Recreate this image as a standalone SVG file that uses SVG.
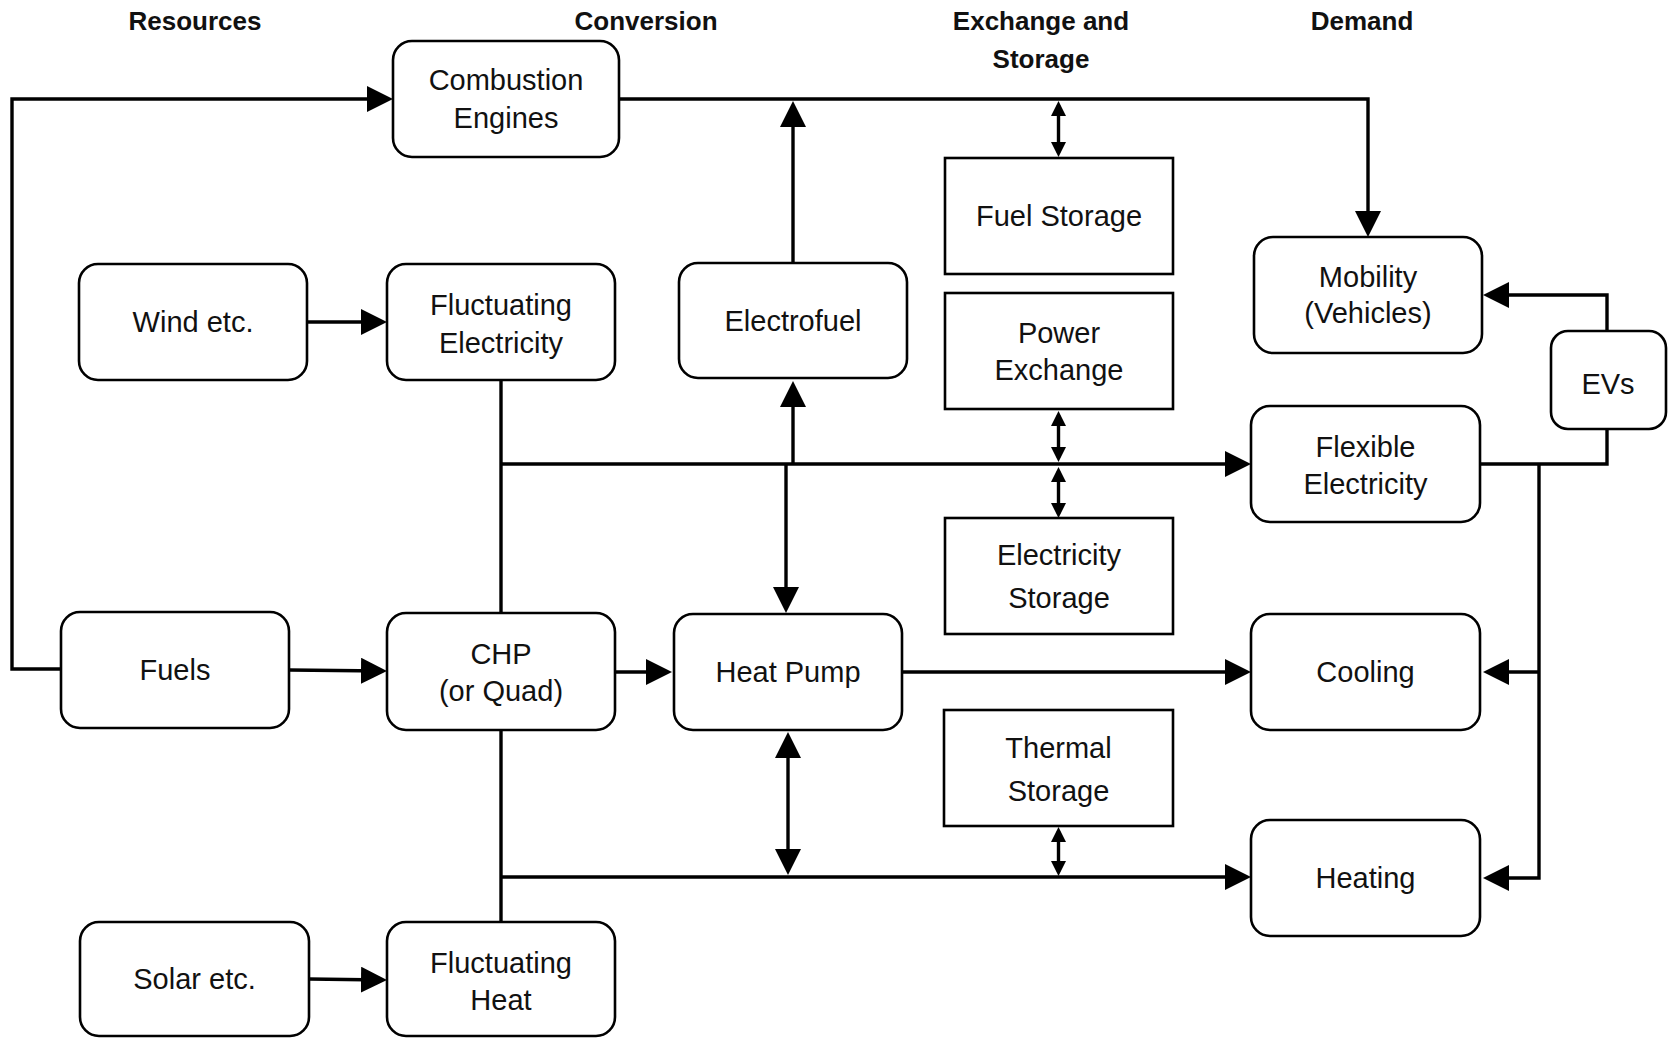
<svg xmlns="http://www.w3.org/2000/svg" width="1669" height="1038" viewBox="0 0 1669 1038">
<style>
.node rect{fill:#fff;stroke:#000;stroke-width:2.6}
.node text{font-family:"Liberation Sans",Arial,sans-serif;font-size:29px;fill:#111;text-anchor:middle}
.hdr{font-family:"Liberation Sans",Arial,sans-serif;font-size:26px;font-weight:bold;fill:#111;text-anchor:middle}
.c path{fill:none;stroke:#000;stroke-width:3.4}
.big{marker-end:url(#ab)}
.bigd{marker-start:url(#ab);marker-end:url(#ab)}
.smd{marker-start:url(#as);marker-end:url(#as)}
</style>
<defs>
<marker id="ab" markerUnits="userSpaceOnUse" markerWidth="26" markerHeight="26" refX="22" refY="13" orient="auto-start-reverse"><path d="M0,0 L26,13 L0,26 z" fill="#000"/></marker>
<marker id="as" markerUnits="userSpaceOnUse" markerWidth="15" markerHeight="15" refX="11" refY="7.5" orient="auto-start-reverse"><path d="M0,0 L15,7.5 L0,15 z" fill="#000"/></marker>
</defs>
<rect width="1669" height="1038" fill="#fff"/>
<g id="headers">
<text class="hdr" x="195" y="30">Resources</text>
<text class="hdr" x="646" y="30">Conversion</text>
<text class="hdr" x="1041" y="30">Exchange and</text>
<text class="hdr" x="1041" y="68">Storage</text>
<text class="hdr" x="1362" y="30">Demand</text>
</g>
<g id="connectors" class="c">
<path class="big" d="M61,669 H12 V99 H389"/>
<path class="big" d="M619,99 H1368 V233"/>
<path class="big" d="M793,263 V105"/>
<path class="smd" d="M1058.5,105 V153"/>
<path class="big" d="M307,322 H383"/>
<path class="big" d="M1607,331 V295 H1487"/>
<path d="M501,380 V613"/>
<path class="big" d="M501,464 H1247"/>
<path class="big" d="M793,464 V385"/>
<path class="big" d="M786,464 V609"/>
<path class="smd" d="M1058.5,415 V458"/>
<path class="smd" d="M1058.5,471 V514"/>
<path d="M1480,464 H1607 V429"/>
<path class="big" d="M1539,464 V878 H1487"/>
<path class="big" d="M1539,672 H1487"/>
<path class="big" d="M289,670 L383,671"/>
<path class="big" d="M615,672 H668"/>
<path class="big" d="M902,672 H1247"/>
<path d="M501,730 V922"/>
<path class="big" d="M501,877 H1247"/>
<path class="bigd" d="M788,736 V871"/>
<path class="smd" d="M1058.5,831 V872"/>
<path class="big" d="M309,979 L383,980"/>
</g>
<g id="n-comb" class="node"><rect x="393" y="41" width="226" height="116" rx="19"/><text x="506" y="90">Combustion</text><text x="506" y="128">Engines</text></g>
<g id="n-wind" class="node"><rect x="79" y="264" width="228" height="116" rx="19"/><text x="193" y="332">Wind etc.</text></g>
<g id="n-fluct-elec" class="node"><rect x="387" y="264" width="228" height="116" rx="19"/><text x="501" y="315">Fluctuating</text><text x="501" y="353">Electricity</text></g>
<g id="n-electrofuel" class="node"><rect x="679" y="263" width="228" height="115" rx="19"/><text x="793" y="331">Electrofuel</text></g>
<g id="n-fuel-storage" class="node"><rect x="945" y="158" width="228" height="116"/><text x="1059" y="226">Fuel Storage</text></g>
<g id="n-power-exchange" class="node"><rect x="945" y="293" width="228" height="116"/><text x="1059" y="343">Power</text><text x="1059" y="380">Exchange</text></g>
<g id="n-mobility" class="node"><rect x="1254" y="237" width="228" height="116" rx="19"/><text x="1368" y="287">Mobility</text><text x="1368" y="323">(Vehicles)</text></g>
<g id="n-evs" class="node"><rect x="1551" y="331" width="115" height="98" rx="17"/><text x="1608" y="394">EVs</text></g>
<g id="n-flex-elec" class="node"><rect x="1251" y="406" width="229" height="116" rx="19"/><text x="1365.5" y="457">Flexible</text><text x="1365.5" y="494">Electricity</text></g>
<g id="n-elec-storage" class="node"><rect x="945" y="518" width="228" height="116"/><text x="1059" y="565">Electricity</text><text x="1059" y="608">Storage</text></g>
<g id="n-fuels" class="node"><rect x="61" y="612" width="228" height="116" rx="19"/><text x="175" y="680">Fuels</text></g>
<g id="n-chp" class="node"><rect x="387" y="613" width="228" height="117" rx="19"/><text x="501" y="664">CHP</text><text x="501" y="701">(or Quad)</text></g>
<g id="n-heat-pump" class="node"><rect x="674" y="614" width="228" height="116" rx="19"/><text x="788" y="682">Heat Pump</text></g>
<g id="n-cooling" class="node"><rect x="1251" y="614" width="229" height="116" rx="19"/><text x="1365.5" y="682">Cooling</text></g>
<g id="n-thermal-storage" class="node"><rect x="944" y="710" width="229" height="116"/><text x="1058.5" y="758">Thermal</text><text x="1058.5" y="801">Storage</text></g>
<g id="n-heating" class="node"><rect x="1251" y="820" width="229" height="116" rx="19"/><text x="1365.5" y="888">Heating</text></g>
<g id="n-solar" class="node"><rect x="80" y="922" width="229" height="114" rx="19"/><text x="194.5" y="989">Solar etc.</text></g>
<g id="n-fluct-heat" class="node"><rect x="387" y="922" width="228" height="114" rx="19"/><text x="501" y="973">Fluctuating</text><text x="501" y="1010">Heat</text></g>
</svg>
